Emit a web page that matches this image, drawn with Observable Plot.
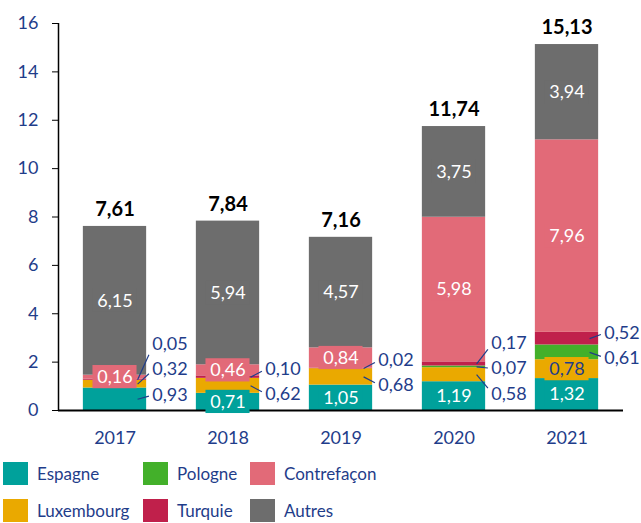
<!DOCTYPE html>
<html>
<head>
<meta charset="utf-8">
<script src="https://cdn.jsdelivr.net/npm/d3@7"></script>
<script src="https://cdn.jsdelivr.net/npm/@observablehq/plot@0.6"></script>
<style>
  html, body { margin: 0; padding: 0; background: #fff; }
  #chart { width: 641px; }
  .legend { display: grid; grid-template-columns: 140px 107px auto; grid-auto-rows: 37px;
    padding-left: 3px; font-family: Lato, sans-serif; font-size: 17px; color: #1F3D8A; }
  .legend .item { display: flex; align-items: center; }
  .legend .sw { width: 25px; height: 23px; margin-right: 9px; flex: none; }
</style>
</head>
<body>
<div id="chart"></div>
<script>
const years = [2017, 2018, 2019, 2020, 2021];
const series = ["Espagne", "Luxembourg", "Pologne", "Turquie", "Contrefaçon", "Autres"];
const espagne     = [0.93, 0.71, 1.05, 1.19, 1.32];
const luxembourg  = [0.32, 0.62, 0.68, 0.58, 0.78];
const pologne     = [0.00, 0.00, 0.00, 0.07, 0.61];
const turquie     = [0.05, 0.10, 0.02, 0.17, 0.52];
const contrefacon = [0.16, 0.46, 0.84, 5.98, 7.96];
const autres      = [6.15, 5.94, 4.57, 3.75, 3.94];
const totals      = [7.61, 7.84, 7.16, 11.74, 15.13];
const yTicks = [0, 2, 4, 6, 8, 10, 12, 14, 16];
const legendOrder = ["Espagne", "Pologne", "Contrefaçon", "Luxembourg", "Turquie", "Autres"];
const colors = ["#00A19B", "#EAA900", "#43B02A", "#C0204B", "#E26A78", "#6D6D6D"];
// which segment labels are drawn outside the bar with a leader line
const outside = {
  2017: ["Espagne", "Luxembourg", "Turquie"],
  2018: ["Luxembourg", "Turquie"],
  2019: ["Luxembourg", "Turquie"],
  2020: ["Luxembourg", "Pologne", "Turquie"],
  2021: ["Pologne", "Turquie"]
};

const values = [espagne, luxembourg, pologne, turquie, contrefacon, autres];
const colorOf = Object.fromEntries(series.map((s, i) => [s, colors[i]]));
const fmt = v => v.toFixed(2).replace(".", ",");
const blue = "#1F3D8A";

const rows = [];
years.forEach((year, i) => {
  let cum = 0;
  series.forEach((s, j) => {
    const v = values[j][i];
    rows.push({year, series: s, value: v, y1: cum, y2: cum + v, mid: cum + v / 2});
    cum += v;
  });
});

const inside = rows.filter(r => r.value > 0 && !outside[r.year].includes(r.series));
const outs = [];
years.forEach(year => {
  const list = rows.filter(r => r.year === year && outside[year].includes(r.series));
  const gap = 1.05;
  const mean = d3.mean(list, r => r.mid);
  let start = mean - gap * (list.length - 1) / 2;
  if (start < 0.65) start = 0.65;
  list.forEach((r, k) => {
    const ly = start + k * gap;
    const diff = r.mid - ly;
    const endY = ly + Math.sign(diff) * Math.min(Math.abs(diff) * 0.3, 0.5);
    outs.push({...r, ly, endY});
  });
});
const totalRows = years.map((year, i) => ({year, total: totals[i], top: d3.sum(values, v => v[i])}));

const half = 0.28;      // half bar width (x units)
const boxHalfW = 0.195; // half label-box width (x units)
const boxHalfH = 0.48;  // half label-box height (y units)
const chart = Plot.plot({
  width: 641,
  height: 455,
  marginTop: 23,
  marginBottom: 45,
  marginLeft: 58,
  marginRight: 18,
  style: {fontFamily: "Lato, sans-serif", fontSize: "18px", background: "#fff"},
  x: {domain: [2016.5, 2021.5]},
  y: {domain: [0, 16]},
  color: {domain: series, range: colors},
  marks: [
    Plot.rect(rows, {x1: d => d.year - half, x2: d => d.year + half, y1: "y1", y2: "y2", fill: "series"}),
    Plot.ruleY([0], {stroke: "#000", strokeWidth: 2}),
    Plot.ruleX([2016.5], {y1: 0, y2: 16, stroke: "#000", strokeWidth: 1.5}),
    Plot.axisY({ticks: yTicks, tickSize: 6, tickPadding: 14, fill: blue, stroke: "#000", label: null, fontSize: 18}),
    Plot.axisX({ticks: years, tickFormat: d => String(d), tickSize: 0, tickPadding: 21, fill: blue, label: null, fontSize: 18}),
    Plot.rect(inside, {
      x1: d => d.year - boxHalfW, x2: d => d.year + boxHalfW,
      y1: d => d.mid - boxHalfH, y2: d => d.mid + boxHalfH,
      fill: d => colorOf[d.series]
    }),
    Plot.text(inside, {
      x: "year", y: "mid", text: d => fmt(d.value),
      fill: d => d.series === "Luxembourg" ? blue : "#fff",
      fontSize: 18
    }),
    Plot.link(outs, {x1: d => d.year + 0.2, y1: "mid", x2: d => d.year + 0.3, y2: "endY", stroke: blue, strokeWidth: 1.2}),
    Plot.text(outs, {x: d => d.year + half + 0.05, y: "ly", text: d => fmt(d.value), fill: blue, textAnchor: "start", fontSize: 18}),
    Plot.text(totalRows, {x: "year", y: "top", text: d => fmt(d.total), dy: -17, fill: "#000", fontWeight: "bold", fontSize: 20})
  ]
});
const root = document.getElementById("chart");
root.appendChild(chart);

const legend = document.createElement("div");
legend.className = "legend";
legendOrder.forEach(s => {
  const item = document.createElement("div");
  item.className = "item";
  const sw = document.createElement("span");
  sw.className = "sw";
  sw.style.background = colorOf[s];
  const lab = document.createElement("span");
  lab.textContent = s;
  item.appendChild(sw);
  item.appendChild(lab);
  legend.appendChild(item);
});
root.appendChild(legend);
</script>
</body>
</html>
